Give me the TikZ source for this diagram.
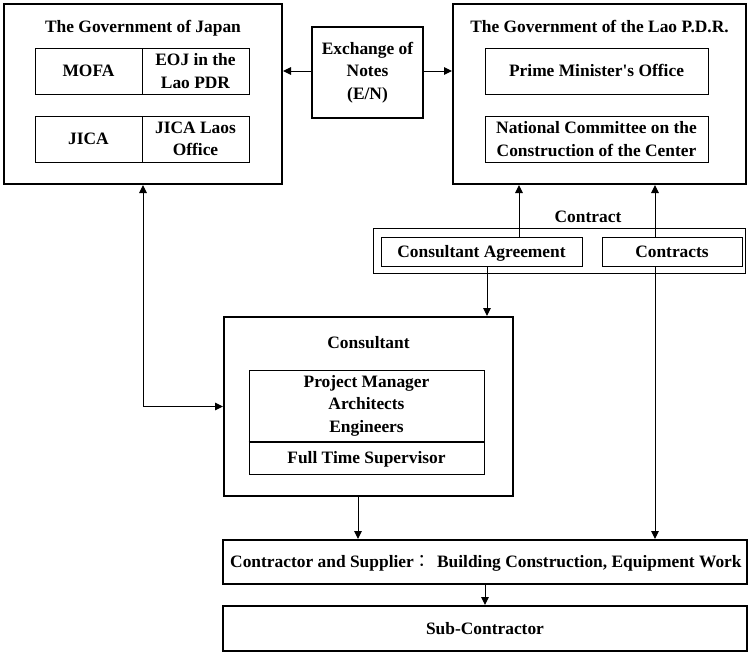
\documentclass[tikz,border=0pt]{standalone}
\usepackage{fontspec}
\setmainfont{Liberation Serif}
\newfontfamily\cjk{Noto Sans CJK JP}
\usetikzlibrary{arrows.meta}
\begin{document}
\begin{tikzpicture}[x=1pt,y=-1pt,
  every node/.style={font=\bfseries\fontsize{17.4}{22.5}\selectfont, align=center, inner sep=0pt},
  oneline/.style={text height=11.6pt, text depth=0pt},
  outerbox/.style={draw, line width=2pt, minimum width=#1},
  innerbox/.style={draw, line width=1pt, minimum width=#1},
  plain/.style={draw=none},
  arr/.style={line width=1pt, -{Triangle[length=8pt,width=7.5pt]}},
  arrboth/.style={line width=1pt, {Triangle[length=8pt,width=7.5pt]}-{Triangle[length=8pt,width=7.5pt]}}]
\useasboundingbox (0,0) rectangle (750,653);
% Government of Japan
\node[outerbox=278pt, minimum height=180pt] (jp) at (143,94) {};
\node[plain, oneline] (jptitle) at (143,27) {The Government of Japan};
\node[innerbox=107pt, minimum height=46pt, oneline] (mofa) at (88.5,71) {MOFA};
\node[innerbox=107pt, minimum height=46pt] (eoj) at (195.5,71) {EOJ in the\\Lao PDR};
\node[innerbox=107pt, minimum height=46pt, oneline] (jica) at (88.5,139) {JICA};
\node[innerbox=107pt, minimum height=46pt] (jicalaos) at (195.5,139) {JICA Laos\\Office};
% Exchange of notes
\node[outerbox=111pt, minimum height=91pt] (ex) at (367.5,72.5) {Exchange of\\Notes\\(E/N)};
% Government of Lao
\node[outerbox=293pt, minimum height=180pt] (lao) at (599.5,94) {};
\node[plain, oneline] (laotitle) at (599.5,27) {The Government of the Lao P.D.R.};
\node[innerbox=223pt, minimum height=46pt, oneline] (pmo) at (596.5,71) {Prime Minister\textquotesingle s Office};
\node[innerbox=223pt, minimum height=46pt] (nc) at (596.5,139) {National Committee on the\\Construction of the Center};
% Contract
\node[plain, oneline] (contractlbl) at (588,217) {Contract};
\node[innerbox=372pt, minimum height=45pt] (contract) at (559,250.5) {};
\node[innerbox=201pt, minimum height=29pt, oneline] (ca) at (481.5,251.5) {Consultant Agreement};
\node[innerbox=140pt, minimum height=29pt, oneline] (ctrs) at (672,251.5) {Contracts};
% Consultant
\node[outerbox=289pt, minimum height=179pt] (cons) at (368.5,406.5) {};
\node[plain, oneline] (constitle) at (368.5,343) {Consultant};
\node[innerbox=235pt, minimum height=71pt] (staff) at (366.5,405.5) {Project Manager\\Architects\\Engineers};
\node[innerbox=235pt, minimum height=33pt, oneline] (fts) at (366.5,457.5) {Full Time Supervisor};
\draw[line width=2pt] (staff.south west) -- (staff.south east);
% Contractor and sub-contractor
\node[outerbox=524pt, minimum height=44pt] (ctr) at (485,562) {};
\node[plain, oneline, anchor=west] (ctrtext) at (230,562) {Contractor and Supplier{\cjk\mdseries ：}\,\,Building Construction, Equipment Work};
\node[outerbox=524pt, minimum height=45pt, oneline] (sub) at (485,628.5) {Sub-Contractor};
% connectors
\coordinate (xa) at (519,0);
\coordinate (xb) at (655,0);
\coordinate (xc) at (487,0);
\coordinate (xd) at (143,0);
\coordinate (xe) at (358,0);
\draw[arr] (ex.west |- 0,71) -- (jp.east |- 0,71);
\draw[arr] (ex.east |- 0,71) -- (lao.west |- 0,71);
\draw[arr] (ca.north -| xa) -- (lao.south -| xa);
\draw[arr] (ctrs.north -| xb) -- (lao.south -| xb);
\draw[arr] (ctrs.south -| xb) -- (ctr.north -| xb);
\draw[arr] (ca.south -| xc) -- (cons.north -| xc);
\draw[arrboth] (jp.south -| xd) |- (cons.west);
\draw[arr] (cons.south -| xe) -- (ctr.north -| xe);
\draw[arr] (ctr.south -| sub.north) -- (sub.north);
\end{tikzpicture}
\end{document}
